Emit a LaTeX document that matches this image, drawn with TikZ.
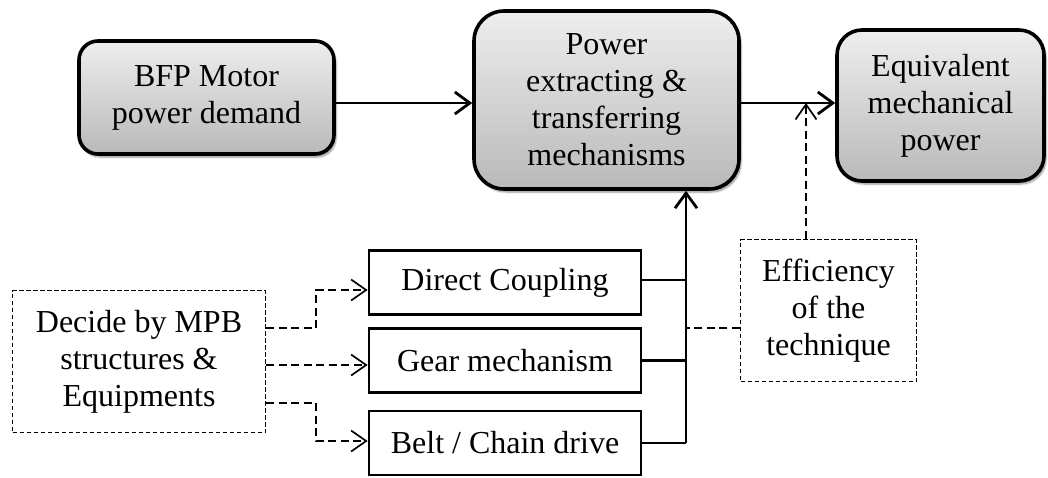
\documentclass[tikz,border=0pt]{standalone}
\usepackage{fontspec}
\setmainfont{Liberation Serif}
\usetikzlibrary{arrows.meta,shadows.blur,calc}
\definecolor{topgray}{HTML}{EEEEEE}
\definecolor{botgray}{HTML}{B9B9B9}
\begin{document}
\begin{tikzpicture}[x=1pt,y=-1pt,
  txt/.style={font=\fontsize{32}{37}\selectfont, align=center, inner sep=0pt},
  stagebox/.style={txt, draw, line width=3.6pt, rounded corners=#1,
    top color=topgray, bottom color=botgray,
    blur shadow={shadow xshift=2pt, shadow yshift=-3pt, shadow blur steps=6, shadow opacity=45}},
  methodbox/.style={txt, draw, line width=2.8pt, minimum width=272pt, minimum height=64pt},
  notebox/.style={txt, draw, line width=1.1pt, dash pattern=on 4.5pt off 2.5pt},
  flow/.style={line width=2.8pt, -{Straight Barb[length=15pt, width=22pt]}},
  link/.style={line width=2.8pt},
  hint/.style={line width=1.6pt, dash pattern=on 8pt off 4.5pt},
  hintarrow/.style={hint, -{Straight Barb[length=15pt, width=21pt, line width=1.7pt]}}
]
\useasboundingbox (0,0) rectangle (1048,477);

% main chain
\node[stagebox=19pt, minimum width=255pt, minimum height=113pt] (bfp) at (206.5,97.5)
  {BFP Motor\\power demand};
\node[stagebox=30pt, minimum width=265pt, minimum height=178pt] (pw) at (606.5,100)
  {Power\\extracting \&\\transferring\\mechanisms};
\node[stagebox=25pt, minimum width=207pt, minimum height=151pt] (eq) at (940.5,105.5)
  {Equivalent\\mechanical\\power};

% transfer techniques
\node[methodbox] (dc)   at (505,282.5) {Direct Coupling};
\node[methodbox] (gear) at (505,360.5) {Gear mechanism};
\node[methodbox] (belt) at (505,443)   {Belt / Chain drive};

% side notes
\node[notebox, minimum width=253pt, minimum height=142pt] (dec) at (139,361.5)
  {Decide by MPB\\structures \&\\Equipments};
\node[notebox, minimum width=176pt, minimum height=142pt] (eff) at (828.5,310.5)
  {Efficiency\\of the\\technique};

% collecting bus
\coordinate (bus) at (686,445);
\coordinate (mainline) at (0,103);

\draw[flow] ([yshift=-5.5pt]bfp.east) -- ([yshift=-5.5pt]bfp.east -| pw.west);
\draw[flow] ([yshift=-3pt]pw.east) -- ([yshift=-3pt]pw.east -| eq.west);

\draw[link] (belt.east) -- (belt.east -| bus);
\draw[flow] (belt.east -| bus) -- (bus |- pw.south);
\draw[link] ([yshift=2.5pt]dc.east) -- ([yshift=2.5pt]dc.east -| bus);
\draw[link] (gear.east) -- (gear.east -| bus);

\draw[hint] ([yshift=-17.5pt]eff.west) -- ([yshift=-17.5pt]eff.west -| bus);
\draw[hintarrow] ([xshift=-22.5pt]eff.north) -- ([xshift=-22.5pt]eff.north |- mainline);

% choice arrows
\draw[hintarrow] ([yshift=33.5pt]dec.east) -- ++(50,0) |- ([yshift=-7.5pt]dc.west);
\draw[hintarrow] ([yshift=-4.5pt]gear.west -| dec.east) -- ([yshift=-4.5pt]gear.west);
\draw[hintarrow] ([yshift=-41.5pt]dec.east) -- ++(50,0) |- ([yshift=2pt]belt.west);
\end{tikzpicture}
\end{document}
